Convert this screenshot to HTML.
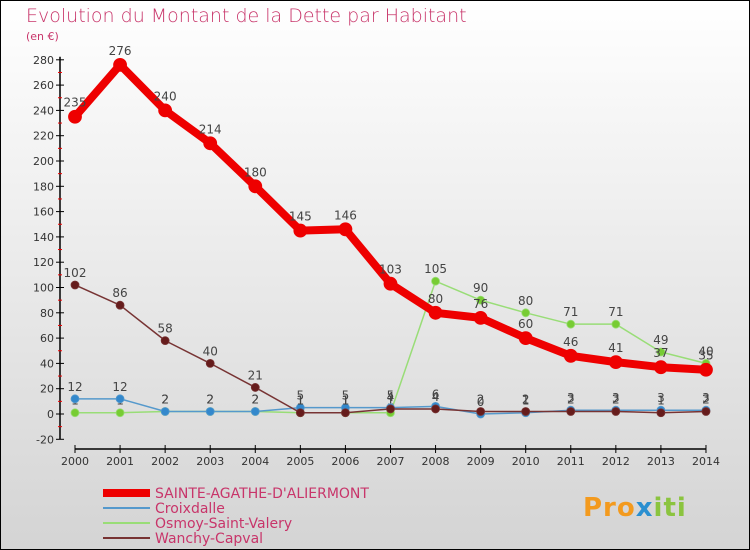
<!DOCTYPE html>
<html><head><meta charset="utf-8"><style>
body{margin:0}
svg{display:block;font-family:"DejaVu Sans","Liberation Sans",sans-serif}
</style></head><body>
<svg width="750" height="550" viewBox="0 0 750 550">
<defs><linearGradient id="bg" x1="0" y1="0" x2="0" y2="1"><stop offset="0" stop-color="#ffffff"/><stop offset="1" stop-color="#d4d4d4"/></linearGradient></defs>
<rect x="0.5" y="0.5" width="749" height="549" fill="url(#bg)" stroke="#000"/>
<text x="26" y="22" font-size="19" fill="#c8356a" font-weight="300">Evolution du Montant de la Dette par Habitant</text>
<text x="26" y="40" font-size="11" fill="#c8356a">(en €)</text>
<g id="axes"></g>
<g id="series"></g>
<g id="legend"></g>
<text x="583" y="516" font-size="26" font-weight="bold" fill="#f39a1e" letter-spacing="1">Pro<tspan fill="#2a8fd0">x</tspan><tspan fill="#8bc43f">iti</tspan></text>
</svg>
<script>
const years=[2000,2001,2002,2003,2004,2005,2006,2007,2008,2009,2010,2011,2012,2013,2014];
const sainte=[235,276,240,214,180,145,146,103,80,76,60,46,41,37,35];
const croix=[12,12,2,2,2,5,5,5,6,0,1,3,3,3,3];
const osmoy=[1,1,2,2,2,1,1,1,105,90,80,71,71,49,40];
const wanchy=[102,86,58,40,21,1,1,4,4,2,2,2,2,1,2];
const yTicks=[-20,0,20,40,60,80,100,120,140,160,180,200,220,240,260,280];
const NS="http://www.w3.org/2000/svg";
const X=i=>75+i*45.07;
const Y=v=>414-v*1.265;
function mk(t,a,p){const e=document.createElementNS(NS,t);for(const k in a)e.setAttribute(k,a[k]);p.appendChild(e);return e;}
const ax=document.getElementById('axes');
let l=mk('line',{x1:60,y1:Y(280)-3,x2:60,y2:Y(-20),stroke:'#000','stroke-width':1.5},ax);


yTicks.forEach(v=>{
 const t=mk('line',{x1:56,x2:64,y1:Y(v),y2:Y(v),stroke:'#000'},ax);
 
 
 if(v<280){const m=mk('line',{x1:58,x2:62,y1:Y(v+10),y2:Y(v+10),stroke:'#e00'},ax);
 
 }
 const tx=mk('text',{x:54,y:Y(v)+4,'text-anchor':'end','font-size':11,fill:'#333'},ax);
 
 
 tx.textContent=v;
});
l=mk('line',{x1:X(0),y1:449,x2:X(14),y2:449,stroke:'#000','stroke-width':1.5},ax);


years.forEach((y,i)=>{
 const t=mk('line',{x1:X(i),x2:X(i),y1:445,y2:453,stroke:'#000'},ax);
 
 
 const tx=mk('text',{x:X(i),y:465,'text-anchor':'middle','font-size':11,fill:'#333'},ax);
 
 
 tx.textContent=y;
});
const sg=document.getElementById('series');
function draw(name,data,color,w,r,dot,lblDy){
 const g=mk('g',{},sg);
 
 
 const p=mk('polyline',{points:data.map((v,i)=>X(i)+','+Y(v)).join(' '),fill:'none',stroke:color,'stroke-width':w,'stroke-linejoin':'round'},g);
 
 
 data.forEach((v,i)=>{
  const c=mk('circle',{cx:X(i),cy:Y(v),r:r,fill:dot,stroke:color,'stroke-width':0.8},g);
  
  
  const t=mk('text',{x:X(i),y:Y(v)+lblDy,'text-anchor':'middle','font-size':12,fill:'#444'},g);
  
  
  t.textContent=v;
 });
}
draw('osmoy',osmoy,'#99dd77',1.5,4,'#77cc33',-8);
draw('croixdalle',croix,'#5599cc',1.5,4,'#3388cc',-8);
draw('wanchy',wanchy,'#773333',1.5,4,'#661c1c',-8);
draw('sainte-agathe',sainte,'#ee0000',8,6.5,'#ee0000',-10);
const lg=document.getElementById('legend');
const items=[['SAINTE-AGATHE-D\'ALIERMONT','#ee0000',8],['Croixdalle','#5599cc',2],['Osmoy-Saint-Valery','#99dd77',2],['Wanchy-Capval','#773333',2]];
items.forEach((it,i)=>{
 const y=493+i*15;
 const g=mk('g',{},lg);
 
 
 mk('line',{x1:103,x2:150,y1:y,y2:y,stroke:it[1],'stroke-width':it[2]},g);
 const t=mk('text',{x:155,y:y+5,'font-size':14,fill:'#c8356a'},g);
 t.textContent=it[0];
});
</script>
</body></html>
